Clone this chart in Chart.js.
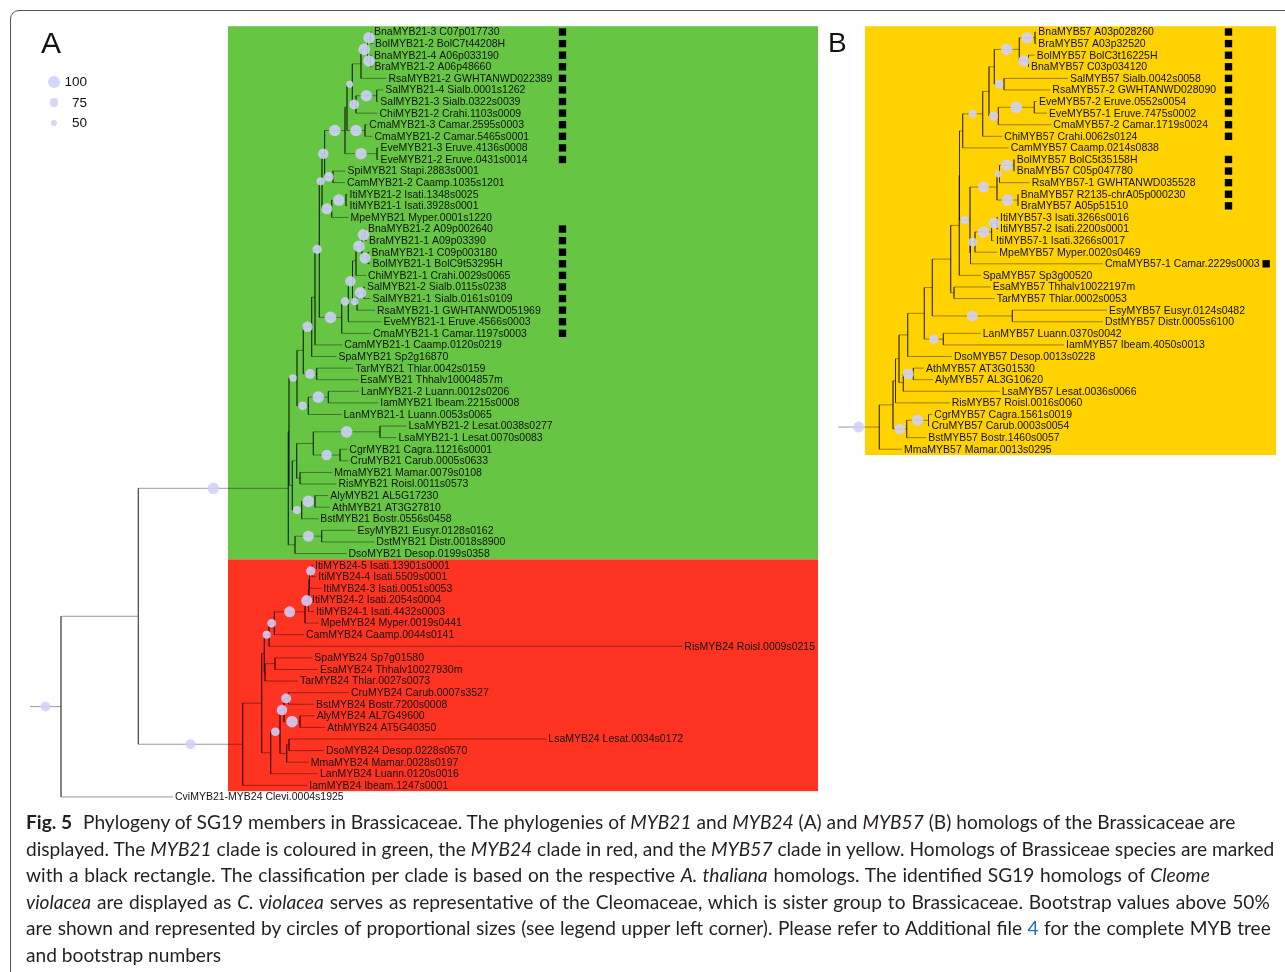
<!DOCTYPE html>
<html>
<head>
<meta charset="utf-8">
<script src="https://cdn.jsdelivr.net/npm/chart.js@4.4.1/dist/chart.umd.min.js"></script>
<style>
  html, body { margin: 0; padding: 0; background: #fff; }
  body { width: 1285px; height: 972px; position: relative; overflow: hidden; font-family: "Liberation Sans", Arial, sans-serif; }
  #frame { position: absolute; left: 10px; top: 10px; width: 1400px; height: 1100px; border: 1px solid #555; border-top-left-radius: 9px; box-sizing: border-box; }
  #tree { position: absolute; left: 0; top: 0; }
  .panel { position: absolute; font-size: 30px; line-height: 30px; color: #111; }
  #legend { position: absolute; left: 40px; top: 70px; font-size: 13.5px; color: #111; }
  #legend .row { position: absolute; left: 0; width: 47px; height: 20px; }
  #legend .dot { position: absolute; border-radius: 50%; background: rgba(208,208,252,0.88); }
  #legend .lab { position: absolute; right: 0; line-height: 20px; }
  #caption { position: absolute; left: 26px; top: 809px; font-family: Lato, "Open Sans", sans-serif; font-size: 19.15px; line-height: 26.5px; color: #231f20; white-space: nowrap; }
  #caption b { font-weight: 700; margin-right: 6px; }
  #caption .link { color: #1f6fb5; }
</style>
</head>
<body>
<div id="frame"></div>
<canvas id="tree" width="1285" height="810"></canvas>
<div class="panel" style="left:41px; top:28px;">A</div>
<div class="panel" style="left:828px; top:28px; font-size:28px;">B</div>
<div id="legend"></div>
<div id="caption">
  <div><b>Fig. 5</b> Phylogeny of SG19 members in Brassicaceae. The phylogenies of <i>MYB21</i> and <i>MYB24</i> (A) and <i>MYB57</i> (B) homologs of the Brassicaceae are</div>
  <div>displayed. The <i>MYB21</i> clade is coloured in green, the <i>MYB24</i> clade in red, and the <i>MYB57</i> clade in yellow. Homologs of Brassiceae species are marked</div>
  <div style="word-spacing:0.85px">with a black rectangle. The classification per clade is based on the respective <i>A. thaliana</i> homologs. The identified SG19 homologs of <i>Cleome</i></div>
  <div style="word-spacing:1px"><i>violacea</i> are displayed as <i>C. violacea</i> serves as representative of the Cleomaceae, which is sister group to Brassicaceae. Bootstrap values above 50%</div>
  <div style="word-spacing:0.55px">are shown and represented by circles of proportional sizes (see legend upper left corner). Please refer to Additional file <span class="link">4</span> for the complete MYB tree</div>
  <div>and bootstrap numbers</div>
</div>
<script>
// ---- tree A: MYB21 / MYB24 (leaves top to bottom) ----
const leavesA = [
  "BnaMYB21-3 C07p017730", "BolMYB21-2 BolC7t44208H", "BnaMYB21-4 A06p033190", "BraMYB21-2 A06p48660",
  "RsaMYB21-2 GWHTANWD022389", "SalMYB21-4 Sialb.0001s1262", "SalMYB21-3 Sialb.0322s0039", "ChiMYB21-2 Crahi.1103s0009",
  "CmaMYB21-3 Camar.2595s0003", "CmaMYB21-2 Camar.5465s0001", "EveMYB21-3 Eruve.4136s0008", "EveMYB21-2 Eruve.0431s0014",
  "SpiMYB21 Stapi.2883s0001", "CamMYB21-2 Caamp.1035s1201", "ItiMYB21-2 Isati.1348s0025", "ItiMYB21-1 Isati.3928s0001",
  "MpeMYB21 Myper.0001s1220", "BnaMYB21-2 A09p002640", "BraMYB21-1 A09p03390", "BnaMYB21-1 C09p003180",
  "BolMYB21-1 BolC9t53295H", "ChiMYB21-1 Crahi.0029s0065", "SalMYB21-2 Sialb.0115s0238", "SalMYB21-1 Sialb.0161s0109",
  "RsaMYB21-1 GWHTANWD051969", "EveMYB21-1 Eruve.4566s0003", "CmaMYB21-1 Camar.1197s0003", "CamMYB21-1 Caamp.0120s0219",
  "SpaMYB21 Sp2g16870", "TarMYB21 Thlar.0042s0159", "EsaMYB21 Thhalv10004857m", "LanMYB21-2 Luann.0012s0206",
  "IamMYB21 Ibeam.2215s0008", "LanMYB21-1 Luann.0053s0065", "LsaMYB21-2 Lesat.0038s0277", "LsaMYB21-1 Lesat.0070s0083",
  "CgrMYB21 Cagra.11216s0001", "CruMYB21 Carub.0005s0633", "MmaMYB21 Mamar.0079s0108", "RisMYB21 Roisl.0011s0573",
  "AlyMYB21 AL5G17230", "AthMYB21 AT3G27810", "BstMYB21 Bostr.0556s0458", "EsyMYB21 Eusyr.0128s0162",
  "DstMYB21 Distr.0018s8900", "DsoMYB21 Desop.0199s0358",
  "ItiMYB24-5 Isati.13901s0001", "ItiMYB24-4 Isati.5509s0001", "ItiMYB24-3 Isati.0051s0053", "ItiMYB24-2 Isati.2054s0004",
  "ItiMYB24-1 Isati.4432s0003", "MpeMYB24 Myper.0019s0441", "CamMYB24 Caamp.0044s0141", "RisMYB24 Roisl.0009s0215",
  "SpaMYB24 Sp7g01580", "EsaMYB24 Thhalv10027930m", "TarMYB24 Thlar.0027s0073", "CruMYB24 Carub.0007s3527",
  "BstMYB24 Bostr.7200s0008", "AlyMYB24 AL7G49600", "AthMYB24 AT5G40350", "LsaMYB24 Lesat.0034s0172",
  "DsoMYB24 Desop.0228s0570", "MmaMYB24 Mamar.0028s0197", "LanMYB24 Luann.0120s0016", "IamMYB24 Ibeam.1247s0001",
  "CviMYB21-MYB24 Clevi.0004s1925"
];
// tip position of each leaf on the distance axis
const tipsA = [
  372, 373, 372, 372.5, 386.5, 383.3, 378.3, 377.5, 367.3, 372.5, 378.5, 378.5,
  345.5, 345, 347.5, 347.5, 348.5, 366, 367, 369.5, 370.5, 366, 365, 370.5,
  375, 381.5, 371, 342.3, 336.5, 353.3, 358.3, 359, 378.3, 341.5, 406.5, 396.5,
  347.3, 348.3, 332.3, 336.5, 328.3, 330, 318.3, 355.5, 374.3, 346.5,
  313, 316.3, 321.3, 310, 314, 318.7, 304, 682.3, 312.3, 318, 298, 349,
  314, 314.7, 325.3, 546.3, 324, 308.7, 318, 307.3, 173
];
// internal nodes: id, position, children (leaf index or node id), bootstrap
const nodesA = [
  ["a01", 370.5, [0, 1], 100], ["a23", 370.5, [2, 3], 100], ["a0_3", 367.5, ["a01", "a23"], 100],
  ["a0_4", 361, ["a0_3", 4], null], ["a56", 376.7, [5, 6], 100], ["a5_7", 356, ["a56", 7], 85],
  ["a0_7", 352.3, ["a0_4", "a5_7"], 60], ["a89", 365, [8, 9], 100], ["a0_9", 347, ["a0_7", "a89"], null],
  ["a1011", 377, [10, 11], 100], ["a0_11", 345, ["a0_9", "a1011"], 100], ["a1213", 333, [12, 13], 85],
  ["a0_13", 324.6, ["a0_11", "a1213"], 90], ["a1415", 346, [14, 15], 100], ["a14_16", 331.7, ["a1415", 16], 95],
  ["a0_16", 322, ["a0_13", "a14_16"], 70], ["a1718", 365, [17, 18], 100], ["a1920", 368, [19, 20], 95],
  ["a17_20", 362, ["a1718", "a1920"], 100], ["a17_21", 356, ["a17_20", 21], null], ["a2223", 364, [22, 23], 100],
  ["a22_24", 357, ["a2223", 24], 65], ["a17_24", 352.5, ["a17_21", "a22_24"], 90], ["a17_25", 348.3, ["a17_24", 25], 75],
  ["a17_26", 341.7, ["a17_25", 26], 100], ["a0_26", 319.3, ["a0_16", "a17_26"], 80], ["a0_27", 315, ["a0_26", 27], null],
  ["a0_28", 311.7, ["a0_27", 28], 90], ["a2930", 316.7, [29, 30], 85], ["a0_30", 303.3, ["a0_28", "a2930"], null],
  ["a3132", 328.3, [31, 32], 100], ["a31_33", 308.3, ["a3132", 33], 75], ["a0_33", 297, ["a0_30", "a31_33"], 65],
  ["a3435", 380, [34, 35], 100], ["a3637", 340, [36, 37], 90], ["a34_37", 313.3, ["a3435", "a3637"], null],
  ["a3839", 300, [38, 39], null], ["a34_39", 296.7, ["a34_37", "a3839"], null], ["a4041", 315, [40, 41], 100],
  ["a40_42", 301.7, ["a4041", 42], 70], ["a34_42", 292.3, ["a34_39", "a40_42"], null], ["a0_42", 289, ["a0_33", "a34_42"], null],
  ["a4344", 321.7, [43, 44], 95], ["a43_45", 295, ["a4344", 45], null], ["a0_45", 288.3, ["a0_42", "a43_45"], 100],
  ["a4647", 312, [46, 47], 80], ["a46_48", 309.5, ["a4647", 48], null], ["a46_49", 309, ["a46_48", 49], null],
  ["a46_50", 308.5, ["a46_49", 50], 95], ["a46_51", 305, ["a46_50", 51], 95], ["a46_52", 274.3, ["a46_51", 52], 75],
  ["a46_53", 269, ["a46_52", 53], 70], ["a5455", 275, [54, 55], null], ["a54_56", 265, ["a5455", 56], null],
  ["a46_56", 264.3, ["a46_53", "a54_56"], null], ["a5758", 288.3, [57, 58], 85], ["a5960", 300, [59, 60], 100],
  ["a57_60", 284, ["a5758", "a5960"], 90], ["a6162", 289, [61, 62], null], ["a61_63", 286.7, ["a6162", 63], null],
  ["a57_63", 280, ["a57_60", "a61_63"], 75], ["a57_64", 270.7, ["a57_63", 64], null], ["a46_64", 261.7, ["a46_56", "a57_64"], null],
  ["a46_65", 242.7, ["a46_64", 65], 85], ["a0_65", 138.3, ["a0_45", "a46_65"], null], ["rootA", 61, ["a0_65", 66], 85]
];
const stemA = 30;
const marksA = [0, 1, 2, 3, 4, 5, 6, 7, 8, 9, 10, 11, 17, 18, 19, 20, 21, 22, 23, 24, 25, 26];

// ---- tree B: MYB57 ----
const leavesB = [
  "BnaMYB57 A03p028260", "BraMYB57 A03p32520", "BolMYB57 BolC3t16225H", "BnaMYB57 C03p034120",
  "SalMYB57 Sialb.0042s0058", "RsaMYB57-2 GWHTANWD028090", "EveMYB57-2 Eruve.0552s0054", "EveMYB57-1 Eruve.7475s0002",
  "CmaMYB57-2 Camar.1719s0024", "ChiMYB57 Crahi.0062s0124", "CamMYB57 Caamp.0214s0838", "BolMYB57 BolC5t35158H",
  "BnaMYB57 C05p047780", "RsaMYB57-1 GWHTANWD035528", "BnaMYB57 R2135-chrA05p000230", "BraMYB57 A05p51510",
  "ItiMYB57-3 Isati.3266s0016", "ItiMYB57-2 Isati.2200s0001", "ItiMYB57-1 Isati.3266s0017", "MpeMYB57 Myper.0020s0469",
  "CmaMYB57-1 Camar.2229s0003", "SpaMYB57 Sp3g00520", "EsaMYB57 Thhalv10022197m", "TarMYB57 Thlar.0002s0053",
  "EsyMYB57 Eusyr.0124s0482", "DstMYB57 Distr.0005s6100", "LanMYB57 Luann.0370s0042", "IamMYB57 Ibeam.4050s0013",
  "DsoMYB57 Desop.0013s0228", "AthMYB57 AT3G01530", "AlyMYB57 AL3G10620", "LsaMYB57 Lesat.0036s0066",
  "RisMYB57 Roisl.0016s0060", "CgrMYB57 Cagra.1561s0019", "CruMYB57 Carub.0003s0054", "BstMYB57 Bostr.1460s0057",
  "MmaMYB57 Mamar.0013s0295"
];
const tipsB = [
  1036.3, 1036.3, 1034.7, 1029, 1068, 1050.3, 1037, 1047, 1051.3, 1002.3, 1008.7, 1014.7,
  1014.7, 1029.7, 1018.7, 1018.7, 998, 998, 994, 997.3, 1103, 980.7, 990.7, 994.7,
  1107, 1103, 980.7, 1064, 952, 924, 933, 999.7, 949.7, 932.3, 929.5, 926.3, 902
];
const nodesB = [
  ["b01", 1035, [0, 1], 100], ["b23", 1028.5, [2, 3], 100], ["b0_3", 1019.3, ["b01", "b23"], 100],
  ["b45", 1004, [4, 5], 75], ["b0_5", 994.3, ["b0_3", "b45"], null], ["b67", 1034.3, [6, 7], 100],
  ["b6_8", 998.3, ["b67", 8], 80], ["b0_8", 989, ["b0_5", "b6_8"], null], ["b0_9", 982.7, ["b0_8", 9], 70],
  ["b0_10", 962.7, ["b0_9", 10], null], ["b1112", 1014, [11, 12], 100], ["b11_13", 999.5, ["b1112", 13], 60],
  ["b1415", 1018, [14, 15], 100], ["b11_15", 997, ["b11_13", "b1415"], 95], ["b1617", 997, [16, 17], 95],
  ["b16_18", 991.6, ["b1617", 18], 100], ["b16_19", 975, ["b16_18", 19], 80], ["b16_20", 970.5, ["b16_19", 20], null],
  ["b11_20", 970, ["b11_15", "b16_20"], 75], ["b0_20", 959.5, ["b0_10", "b11_20"], null], ["b0_21", 959.3, ["b0_20", 21], null],
  ["b2223", 954, [22, 23], null], ["b0_23", 950.7, ["b0_21", "b2223"], null], ["b2425", 1012.3, [24, 25], 95],
  ["b0_25", 932.3, ["b0_23", "b2425"], null], ["b2627", 943.3, [26, 27], 80], ["b0_27", 924.3, ["b0_25", "b2627"], null],
  ["b0_28", 907.7, ["b0_27", 28], null], ["b2930", 913.3, [29, 30], 95], ["b29_31", 903.3, ["b2930", 31], null],
  ["b0_31", 899, ["b0_28", "b29_31"], null], ["b0_32", 895.5, ["b0_31", 32], null], ["b3334", 928.5, [33, 34], 100],
  ["b33_35", 906.7, ["b3334", 35], 90], ["b0_35", 893, ["b0_32", "b33_35"], null], ["rootB", 879.3, ["b0_35", 36], 95]
];
const stemB = 838;
const marksB = [0, 1, 2, 3, 4, 5, 6, 7, 8, 9, 11, 12, 13, 14, 15, 20];

const legendBoot = [100, 75, 50];

// ---- layout / style ----
const W = 1285, H = 810;
const ROW0 = 32, ROW = 11.59;          // pixel row of first leaf, row spacing
const LABEL_FONT = '10.5px "Liberation Sans", Arial, sans-serif';
const LINE_COLOR = "rgba(0,0,0,0.4)";
const DOT_COLOR = "rgba(208,208,252,0.88)";
const DOT_SCALE = 0.058;               // radius per bootstrap unit
const markColumn = { A: 562.5, B: 1228.5 };
const cladeBoxes = [
  { rows: [0, 45], span: [228, 818], color: "#66c644" },
  { rows: [46, 65], span: [228, 818], color: "#ff3322" },
  { rows: [0, 36], span: [865, 1276], color: "#ffd200" }
];

function buildTree(leaves, tips, nodes, stem) {
  const byId = {};
  nodes.forEach(n => byId[n[0]] = { x: n[1], kids: n[2], boot: n[3] });
  const yOf = k => typeof k === "number" ? k : nodeY(byId[k]);
  const xOf = k => typeof k === "number" ? tips[k] : byId[k].x;
  function nodeY(n) {
    if (n.y === undefined) {
      const ys = n.kids.map(yOf);
      n.y = (ys[0] + ys[ys.length - 1]) / 2;
    }
    return n.y;
  }
  const lines = [];
  const dots = [];
  const root = nodes[nodes.length - 1][0];
  byId[root].parentX = stem;
  nodes.forEach(([id]) => {
    const n = byId[id];
    const ys = n.kids.map(yOf);
    lines.push({ x: n.x, y: ys[0] }, { x: n.x, y: ys[ys.length - 1] }, { x: n.x, y: null });
    n.kids.forEach(k => {
      lines.push({ x: n.x, y: yOf(k) }, { x: xOf(k), y: yOf(k) }, { x: n.x, y: null });
      if (typeof k === "string") byId[k].parentX = n.x;
    });
  });
  lines.push({ x: stem, y: nodeY(byId[root]) }, { x: byId[root].x, y: nodeY(byId[root]) }, { x: stem, y: null });
  nodes.forEach(([id]) => {
    const n = byId[id];
    if (n.boot) dots.push({ x: (n.parentX + n.x) / 2, y: nodeY(n), b: n.boot });
  });
  return { lines, dots };
}

const treeA = buildTree(leavesA, tipsA, nodesA, stemA);
const treeB = buildTree(leavesB, tipsB, nodesB, stemB);

// text widths, so a square never sits on top of a long label
const measure = document.createElement("canvas").getContext("2d");
measure.font = LABEL_FONT;
function markPoints(leaves, tips, marks, col) {
  return marks.map(i => {
    const end = tips[i] + 2 + measure.measureText(leaves[i]).width;
    return { x: Math.max(col, end + 6.5), y: i };
  });
}
const squares = markPoints(leavesA, tipsA, marksA, markColumn.A)
  .concat(markPoints(leavesB, tipsB, marksB, markColumn.B));

const treePlugin = {
  id: "treeDecor",
  beforeDatasetsDraw(chart) {
    const { ctx, scales: { x, y } } = chart;
    ctx.save();
    cladeBoxes.forEach(b => {
      const x0 = x.getPixelForValue(b.span[0]), x1 = x.getPixelForValue(b.span[1]);
      const y0 = y.getPixelForValue(b.rows[0] - 0.5), y1 = y.getPixelForValue(b.rows[1] + 0.5);
      ctx.fillStyle = b.color;
      ctx.fillRect(x0, y0, x1 - x0, y1 - y0);
    });
    ctx.font = LABEL_FONT;
    ctx.fillStyle = "#111";
    ctx.textBaseline = "middle";
    [[leavesA, tipsA], [leavesB, tipsB]].forEach(([names, tips]) => {
      names.forEach((name, i) => ctx.fillText(name, x.getPixelForValue(tips[i]) + 2, y.getPixelForValue(i) + 0.5));
    });
    ctx.restore();
  }
};

new Chart(document.getElementById("tree"), {
  type: "scatter",
  data: {
    datasets: [
      { data: treeA.lines, showLine: true, spanGaps: false, borderColor: LINE_COLOR, borderWidth: 1, pointRadius: 0, order: 4 },
      { data: treeB.lines, showLine: true, spanGaps: false, borderColor: LINE_COLOR, borderWidth: 1, pointRadius: 0, order: 3 },
      { data: squares, pointStyle: "rect", pointRadius: 5.2, backgroundColor: "#000", borderWidth: 0, order: 2 },
      { data: treeA.dots.concat(treeB.dots), pointRadius: c => c.raw.b * DOT_SCALE, backgroundColor: DOT_COLOR, borderWidth: 0, order: 1 }
    ]
  },
  options: {
    responsive: false,
    animation: false,
    devicePixelRatio: 1,
    layout: { padding: 0, autoPadding: false },
    events: [],
    plugins: { legend: { display: false }, tooltip: { enabled: false } },
    scales: {
      x: { type: "linear", min: 0, max: W, display: false },
      y: { type: "linear", min: -ROW0 / ROW, max: (H - ROW0) / ROW, reverse: true, display: false }
    }
  },
  plugins: [treePlugin]
});

// bootstrap size legend
const legend = document.getElementById("legend");
legend.innerHTML = legendBoot.map((b, i) => {
  const r = b * DOT_SCALE;
  return `<div class="row" style="top:${i * 20.7}px">
    <span class="dot" style="left:${14 - r}px; top:${12 - r}px; width:${2 * r}px; height:${2 * r}px"></span>
    <span class="lab" style="top:2px">${b}</span></div>`;
}).join("");
</script>
</body>
</html>
